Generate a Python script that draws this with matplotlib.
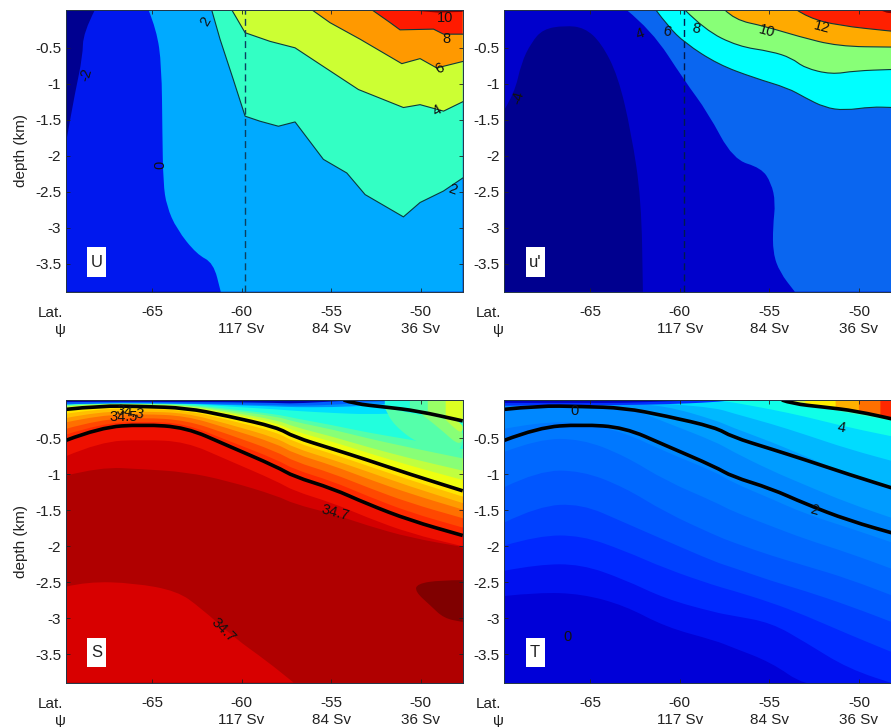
import matplotlib
matplotlib.use('Agg')
import matplotlib.pyplot as plt
from matplotlib.patches import Rectangle, PathPatch
from matplotlib.path import Path

plt.rcParams['font.family'] = ['Liberation Sans', 'DejaVu Sans']

XL, XR = -69.8, -47.65
YB, YT = -3.89, 0.03

xticks = [-65, -60, -55, -50]
xlabels = ['-65', '-60\n117 Sv', '-55\n84 Sv', '-50\n36 Sv']
yticks = [-0.5, -1, -1.5, -2, -2.5, -3, -3.5]
ylabels = ['-0.5', '-1', '-1.5', '-2', '-2.5', '-3', '-3.5']

# U panel contours
u_m2_lat = [-68.18, -68.84, -68.87, -69.3, -69.8]
u_m2_dep = [0.03, -0.29, -0.62, -1.13, -1.82]
u_0_lat = [-65.2, -64.74, -64.46, -64.42, -64.37, -64.18, -63.62, -62.5, -61.57, -61.16]
u_0_dep = [0.03, -0.25, -0.75, -1.68, -2.38, -2.7, -3.02, -3.37, -3.49, -3.89]
u_2_lat = [-61.67, -61.2, -60.46, -59.8, -58.97, -57.94, -57.01, -55.43, -54.12, -53.1, -50.96, -50.03, -48.72, -47.65]
u_2_dep = [0.03, -0.38, -0.94, -1.45, -1.52, -1.59, -1.53, -2.05, -2.24, -2.54, -2.85, -2.65, -2.49, -2.31]
u_4_lat = [-60.55, -59.8, -58.41, -57.01, -55.61, -53.47, -50.96, -50.03, -48.72, -47.65]
u_4_dep = [0.03, -0.29, -0.41, -0.5, -0.73, -1.08, -1.33, -1.29, -1.38, -1.25]
u_6_lat = [-56.08, -55.06, -53.38, -51.05, -50.03, -49.1, -47.65]
u_6_dep = [0.03, -0.15, -0.38, -0.72, -0.65, -0.78, -0.69]
u_8_lat = [-52.73, -51.7, -51.15, -49.28, -48.72, -47.65]
u_8_dep = [0.03, -0.15, -0.25, -0.24, -0.31, -0.31]
u_10_lat = [-51.2, -49.0, -47.65]
u_10_dep = [0.03, -0.01, 0.0]

# u' panel contours
up_dark_lat = [-69.8, -69.23, -68.85, -68.3, -67.64, -66.43, -65.32, -64.39, -63.45, -62.71, -62.15, -62.06]
up_dark_dep = [-1.36, -1.13, -0.71, -0.43, -0.24, -0.19, -0.22, -0.43, -0.89, -1.68, -2.61, -3.89]
up_4_lat = [-62.99, -61.59, -59.73, -58.43, -57.03, -55.45, -54.89, -54.66, -54.8, -54.8, -54.42, -53.58]
up_4_dep = [0.03, -0.25, -0.96, -1.4, -2.05, -2.17, -2.38, -2.65, -2.98, -3.35, -3.62, -3.89]
up_6_lat = [-61.35, -60.66, -59.73, -57.87, -55.82, -53.96, -53.03, -51.91, -50.79, -49.3, -48.13, -47.65]
up_6_dep = [0.03, -0.2, -0.43, -0.73, -0.92, -1.06, -1.19, -1.33, -1.37, -1.32, -1.33, -1.33]
up_8_lat = [-59.73, -58.61, -56.75, -54.89, -53.77, -53.03, -51.54, -50.23, -48.13, -47.65]
up_8_dep = [0.03, -0.25, -0.48, -0.55, -0.64, -0.78, -0.87, -0.82, -0.8, -0.8]
up_10_lat = [-57.5, -56.94, -55.26, -53.4, -51.16, -48.13, -47.65]
up_10_dep = [0.03, -0.11, -0.2, -0.34, -0.48, -0.49, -0.49]
up_12_lat = [-53.49, -52.84, -51.16, -48.13, -47.65]
up_12_dep = [0.03, -0.08, -0.19, -0.27, -0.28]
up_14_lat = [-48.84, -48.56, -48.13, -47.65]
up_14_dep = [0.03, -0.01, -0.02, -0.02]

# S and T panels share these latitudes and the two thick lines
nodes = [-69.8, -67.9, -65.5, -63.1, -60.8, -58.0, -57.1, -54.9, -53.0, -50.6, -47.65]
line_up = [-0.1, -0.05, -0.06, -0.08, -0.19, -0.35, -0.48, -0.65, -0.8, -1.0, -1.23]
line_lo = [-0.53, -0.35, -0.31, -0.35, -0.6, -0.9, -1.03, -1.2, -1.41, -1.64, -1.85]
line_r_lat = [-54.3, -53.75, -51.9, -50.2, -47.65]
line_r_dep = [0.03, -0.02, -0.07, -0.12, -0.26]

# S isolines, deep to shallow
s_colors = ['#d40000', '#ee1000', '#ff2a00', '#ff4800', '#ff7000', '#ff9a00', '#ffc000',
            '#ffe600', '#eeff10', '#c0ff40', '#88ff77', '#55ffaa', '#22ffdd', '#00e0ff', '#0090ff', '#0060ff', '#0000b0']
s_levels = [
    [-1.02, -0.9, -0.93, -0.97, -1.09, -1.3, -1.41, -1.55, -1.71, -1.88, -2.01],
    [-0.75, -0.55, -0.52, -0.55, -0.8, -1.1, -1.23, -1.4, -1.6, -1.82, -2.0],
    line_lo,
    [-0.45, -0.3, -0.265, -0.3, -0.53, -0.8, -0.93, -1.1, -1.3, -1.53, -1.74],
    [-0.37, -0.24, -0.215, -0.25, -0.44, -0.69, -0.82, -0.99, -1.18, -1.4, -1.61],
    [-0.28, -0.18, -0.165, -0.19, -0.36, -0.58, -0.71, -0.88, -1.06, -1.27, -1.49],
    [-0.22, -0.13, -0.13, -0.15, -0.3, -0.5, -0.63, -0.8, -0.96, -1.17, -1.4],
    [-0.16, -0.09, -0.09, -0.115, -0.24, -0.42, -0.55, -0.72, -0.88, -1.08, -1.31],
    line_up,
    [-0.07, -0.03, -0.035, -0.06, -0.15, -0.29, -0.4, -0.55, -0.7, -0.88, -1.08],
    [-0.06, -0.025, -0.03, -0.05, -0.13, -0.25, -0.34, -0.48, -0.62, -0.78, -0.95],
    [-0.05, -0.02, -0.025, -0.04, -0.11, -0.2, -0.27, -0.38, -0.5, -0.63, -0.78],
    [-0.04, -0.015, -0.02, -0.03, -0.09, -0.17, -0.22, -0.32, -0.42, -0.52, -0.65],
    [-0.03, -0.01, -0.015, -0.02, -0.06, -0.1, -0.12, -0.15, -0.17, -0.15, -0.1],
    [-0.03, -0.012, -0.012, -0.02, -0.04, -0.06, -0.07, -0.07, -0.05, 0.0, 0.03],
    [-0.03, -0.015, -0.015, -0.02, -0.03, -0.04, -0.05, -0.04, 0.0, 0.03, 0.03],
    [0.0, 0.005, 0.005, 0.0, 0.0, -0.01, -0.02, 0.01, 0.03, 0.03, 0.03],
]
s_blob_lat = [-69.8, -68.6, -66.0, -63.6, -62.3, -60.4, -58.6, -57.1]
s_blob_dep = [-2.56, -2.49, -2.51, -2.62, -2.85, -3.27, -3.59, -3.89]
s_deep_lat = [-47.65, -48.9, -50.2, -50.3, -49.46, -48.7, -47.65]
s_deep_dep = [-2.47, -2.47, -2.52, -2.63, -2.82, -3.0, -3.05]
# right side below the short thick line
s_right_lat = [[-52.0, -47.65, -47.65, -50.0, -51.5], [-50.2, -47.65, -47.65, -49.0], [-48.9, -47.65, -47.65, -48.3]]
s_right_dep = [[-0.08, -0.26, -0.75, -0.6, -0.32], [-0.12, -0.26, -0.65, -0.35], [-0.17, -0.26, -0.45, -0.32]]
s_right_col = ['#55ffaa', '#88ff77', '#bbff44']
# right side above the short thick line
s_top_lat = [[-52.0, -52.0, -50.2, -47.65, -47.65], [-50.6, -50.6, -47.65, -47.65], [-49.6, -49.6, -47.65, -47.65], [-48.6, -48.6, -47.65, -47.65]]
s_top_dep = [[0.03, -0.07, -0.12, -0.26, 0.03], [0.03, -0.11, -0.26, 0.03], [0.03, -0.15, -0.26, 0.03], [0.03, -0.2, -0.26, 0.03]]
s_top_col = ['#22ffdd', '#55ffaa', '#99ff66', '#ddff22']

# T isolines, deep to shallow
t_colors = ['#0010f0', '#0028ff', '#0040ff', '#0056ff', '#0068ff', '#0078ff', '#0088ff',
            '#009cff', '#00b8ff', '#00dcff', '#10ffe8', '#44ffbb', '#0030ff', '#0000c0']
t_levels = [
    [-2.69, -2.64, -2.66, -2.82, -3.12, -3.31, -3.4, -3.61, -3.94, -3.94, -3.94],
    [-2.34, -2.25, -2.25, -2.46, -2.73, -2.92, -2.96, -3.06, -3.33, -3.7, -3.94],
    [-1.99, -1.85, -1.85, -2.06, -2.31, -2.55, -2.61, -2.78, -2.96, -3.22, -3.52],
    [-1.67, -1.44, -1.41, -1.67, -1.92, -2.22, -2.29, -2.48, -2.62, -2.82, -3.1],
    [-1.18, -0.95, -0.95, -1.18, -1.53, -1.85, -1.94, -2.13, -2.27, -2.45, -2.73],
    [-0.69, -0.51, -0.51, -0.74, -1.09, -1.39, -1.51, -1.72, -1.9, -2.09, -2.36],
    [-0.37, -0.28, -0.28, -0.42, -0.69, -0.97, -1.11, -1.34, -1.55, -1.74, -1.99],
    [-0.02, -0.01, -0.01, -0.05, -0.28, -0.55, -0.68, -0.95, -1.15, -1.4, -1.65],
    [0.03, 0.03, 0.0, -0.02, -0.05, -0.25, -0.35, -0.55, -0.75, -1.0, -1.25],
    [0.03, 0.03, 0.03, 0.03, -0.02, -0.08, -0.15, -0.3, -0.45, -0.65, -0.85],
    [0.03, 0.03, 0.03, 0.03, 0.03, 0.03, 0.0, -0.1, -0.2, -0.35, -0.5],
    [0.03, 0.03, 0.03, 0.03, 0.03, 0.03, 0.03, 0.03, -0.03, -0.15, -0.28],
    [-0.05, -0.04, -0.04, -0.04, -0.03, 0.0, 0.03, 0.03, 0.03, 0.03, 0.03],
    [-0.01, -0.01, -0.01, -0.01, 0.01, 0.03, 0.03, 0.03, 0.03, 0.03, 0.03],
]
# top right corner, above the short thick line
t_top_lat = [[-54.3, -53.75, -51.9, -50.2, -47.65, -47.65], [-53.0, -53.0, -51.9, -50.2, -47.65, -47.65],
             [-51.3, -51.3, -50.2, -47.65, -47.65], [-50.0, -50.0, -47.65, -47.65], [-48.8, -48.8, -47.65, -47.65]]
t_top_dep = [[0.03, -0.02, -0.07, -0.12, -0.26, 0.03], [0.03, -0.04, -0.07, -0.12, -0.26, 0.03],
             [0.03, -0.09, -0.12, -0.26, 0.03], [0.03, -0.13, -0.26, 0.03], [0.03, -0.19, -0.26, 0.03]]
t_top_col = ['#ccf040', '#ffee00', '#ffb000', '#ff7000', '#ff2800']


def curve(lat, dep):
    # quadratic segments through the midpoints, so the contours have no corners
    pts = list(zip(lat, dep))
    verts = [pts[0]]
    codes = [Path.MOVETO]
    for i in range(1, len(pts) - 1):
        mid = ((pts[i][0] + pts[i + 1][0]) / 2, (pts[i][1] + pts[i + 1][1]) / 2)
        verts += [pts[i], mid]
        codes += [Path.CURVE3, Path.CURVE3]
    verts.append(pts[-1])
    codes.append(Path.LINETO)
    return verts, codes


def line(ax, lat, dep, color, lw, zorder=3):
    v, c = curve(lat, dep)
    ax.add_patch(PathPatch(Path(v, c), fill=False, ec=color, lw=lw, zorder=zorder))


def region(ax, lat, dep, corners, color):
    v, c = curve(lat, dep)
    for p in corners:
        v.append(p)
        c.append(Path.LINETO)
    v.append(v[0])
    c.append(Path.CLOSEPOLY)
    ax.add_patch(PathPatch(Path(v, c), fc=color, ec='none', lw=0))


def setup(ax, name, ylab):
    ax.set_xlim(XL, XR)
    ax.set_ylim(YB, YT)
    ax.set_xticks(xticks)
    ax.set_xticklabels(xlabels, linespacing=1.3)
    ax.set_yticks(yticks)
    ax.set_yticklabels(ylabels)
    ax.tick_params(direction='in', top=True, right=True, length=3, width=0.6, labelsize=11,
                   labelcolor='#222222', color='#222222')
    ax.tick_params(axis='x', pad=9.5)
    ax.tick_params(axis='y', pad=3.5)
    for s in ax.spines.values():
        s.set_linewidth(0.7)
        s.set_color('#223344')
        s.set_zorder(6)
    if ylab:
        ax.set_ylabel('depth (km)', fontsize=11, color='#222222', labelpad=5)
    ax.add_patch(Rectangle((-68.6, -3.68), 1.05, 0.41, fc='white', ec='none', zorder=7))
    ax.text(-68.08, -3.48, name, ha='center', va='center', fontsize=12, color='#222222', zorder=8)
    ax.text(-69.95, -4.19, 'Lat.', ha='right', va='center', fontsize=11, color='#222222', clip_on=False)
    ax.text(-70.13, -4.42, '\u03c8', ha='center', va='center', fontsize=11, color='#222222', clip_on=False)


def label(ax, x, y, s, rot=0):
    ax.text(x, y, s, ha='center', va='center', rotation=rot, fontsize=10.5, color='#111111', zorder=5)


W, H = 891, 727
fig = plt.figure(figsize=(W / 100, H / 100), dpi=100)
ax_u = fig.add_axes([66 / W, 1 - 291.7 / H, 396.7 / W, 282 / H])
ax_up = fig.add_axes([504.3 / W, 1 - 291.7 / H, 396.7 / W, 282 / H])
ax_s = fig.add_axes([66 / W, 1 - 682.5 / H, 396.7 / W, 282.5 / H])
ax_t = fig.add_axes([504.3 / W, 1 - 682.5 / H, 396.7 / W, 282.5 / H])

# U, the kinks in the 2 and 4 contours are real so those stay straight segments
ax = ax_u
ax.set_facecolor('#000090')
region(ax, u_m2_lat, u_m2_dep, [(XL, YB), (XR, YB), (XR, YT)], '#0018ee')
region(ax, u_0_lat, u_0_dep, [(XR, YB), (XR, YT)], '#00aaff')
ax.fill(u_2_lat + [XR], u_2_dep + [YT], color='#33ffc4', lw=0)
ax.fill(u_4_lat + [XR], u_4_dep + [YT], color='#ccff33', lw=0)
ax.fill(u_6_lat + [XR], u_6_dep + [YT], color='#ff9900', lw=0)
ax.fill(u_8_lat + [XR], u_8_dep + [YT], color='#ff1a00', lw=0)
ax.fill(u_10_lat + [XR], u_10_dep + [YT], color='#800000', lw=0)
for la, de in [(u_2_lat, u_2_dep), (u_4_lat, u_4_dep), (u_6_lat, u_6_dep), (u_8_lat, u_8_dep)]:
    ax.plot(la, de, color='#0b3a3a', lw=0.8)
ax.plot([-59.78, -59.78], [YB, YT], color='#0b4060', lw=1, dashes=(5, 3))
label(ax, -68.69, -0.87, '-2', 75)
label(ax, -64.55, -2.13, '0', 90)
label(ax, -62.0, -0.13, '2', 60)
label(ax, -48.2, -2.47, '2', -20)
label(ax, -49.06, -1.37, '4', 30)
label(ax, -48.91, -0.79, '6', 30)
label(ax, -48.58, -0.375, '8')
label(ax, -48.63, -0.08, '10')
setup(ax, 'U', True)

# u'
ax = ax_up
ax.set_facecolor('#0000cc')
region(ax, up_dark_lat, up_dark_dep, [(XL, YB)], '#00008f')
region(ax, up_4_lat, up_4_dep, [(XR, YB), (XR, YT)], '#0a66f0')
region(ax, up_6_lat, up_6_dep, [(XR, YT)], '#00ffff')
region(ax, up_8_lat, up_8_dep, [(XR, YT)], '#88ff77')
region(ax, up_10_lat, up_10_dep, [(XR, YT)], '#ffaa00')
region(ax, up_12_lat, up_12_dep, [(XR, YT)], '#ff2000')
region(ax, up_14_lat, up_14_dep, [(XR, YT)], '#800000')
for la, de in [(up_6_lat, up_6_dep), (up_8_lat, up_8_dep), (up_10_lat, up_10_dep), (up_12_lat, up_12_dep)]:
    line(ax, la, de, '#0b3a3a', 0.8)
ax.plot([-59.78, -59.78], [YB, YT], color='#001a50', lw=1, dashes=(5, 3))
label(ax, -69.04, -1.19, '-4', 75)
label(ax, -62.24, -0.31, '4', 20)
label(ax, -60.72, -0.28, '6', -10)
label(ax, -59.08, -0.24, '8', -10)
label(ax, -55.17, -0.27, '10', -15)
label(ax, -52.06, -0.22, '12', -15)
setup(ax, "u'", False)

# S
ax = ax_s
ax.set_facecolor('#b00000')
region(ax, s_blob_lat, s_blob_dep, [(XL, YB)], '#d80000')
region(ax, s_deep_lat, s_deep_dep, [], '#800000')
for lev, col in zip(s_levels, s_colors):
    region(ax, nodes, lev, [(XR, YT), (XL, YT)], col)
for la, de, col in zip(s_right_lat, s_right_dep, s_right_col):
    region(ax, la + [la[0]], de + [de[0]], [], col)
for la, de, col in zip(s_top_lat, s_top_dep, s_top_col):
    ax.fill(la, de, color=col, lw=0)
line(ax, nodes, line_up, 'k', 2.6, 4)
line(ax, nodes, line_lo, 'k', 2.6, 4)
line(ax, line_r_lat, line_r_dep, 'k', 2.6, 4)
label(ax, -66.2, -0.14, '34.3', -10)
label(ax, -66.6, -0.21, '34.5')
label(ax, -54.78, -1.54, '34.7', -15)
label(ax, -61.0, -3.17, '34.7', -45)
setup(ax, 'S', True)

# T
ax = ax_t
ax.set_facecolor('#0000d8')
for lev, col in zip(t_levels, t_colors):
    region(ax, nodes, lev, [(XR, YT), (XL, YT)], col)
for la, de, col in zip(t_top_lat, t_top_dep, t_top_col):
    ax.fill(la, de, color=col, lw=0)
line(ax, nodes, line_up, 'k', 2.6, 4)
line(ax, nodes, line_lo, 'k', 2.6, 4)
line(ax, line_r_lat, line_r_dep, 'k', 2.6, 4)
label(ax, -65.88, -0.12, '0')
label(ax, -50.98, -0.35, '4', -10)
label(ax, -52.52, -1.5, '2', -15)
label(ax, -66.25, -3.26, '0')
setup(ax, 'T', False)

fig.savefig('out.png', dpi=100)
